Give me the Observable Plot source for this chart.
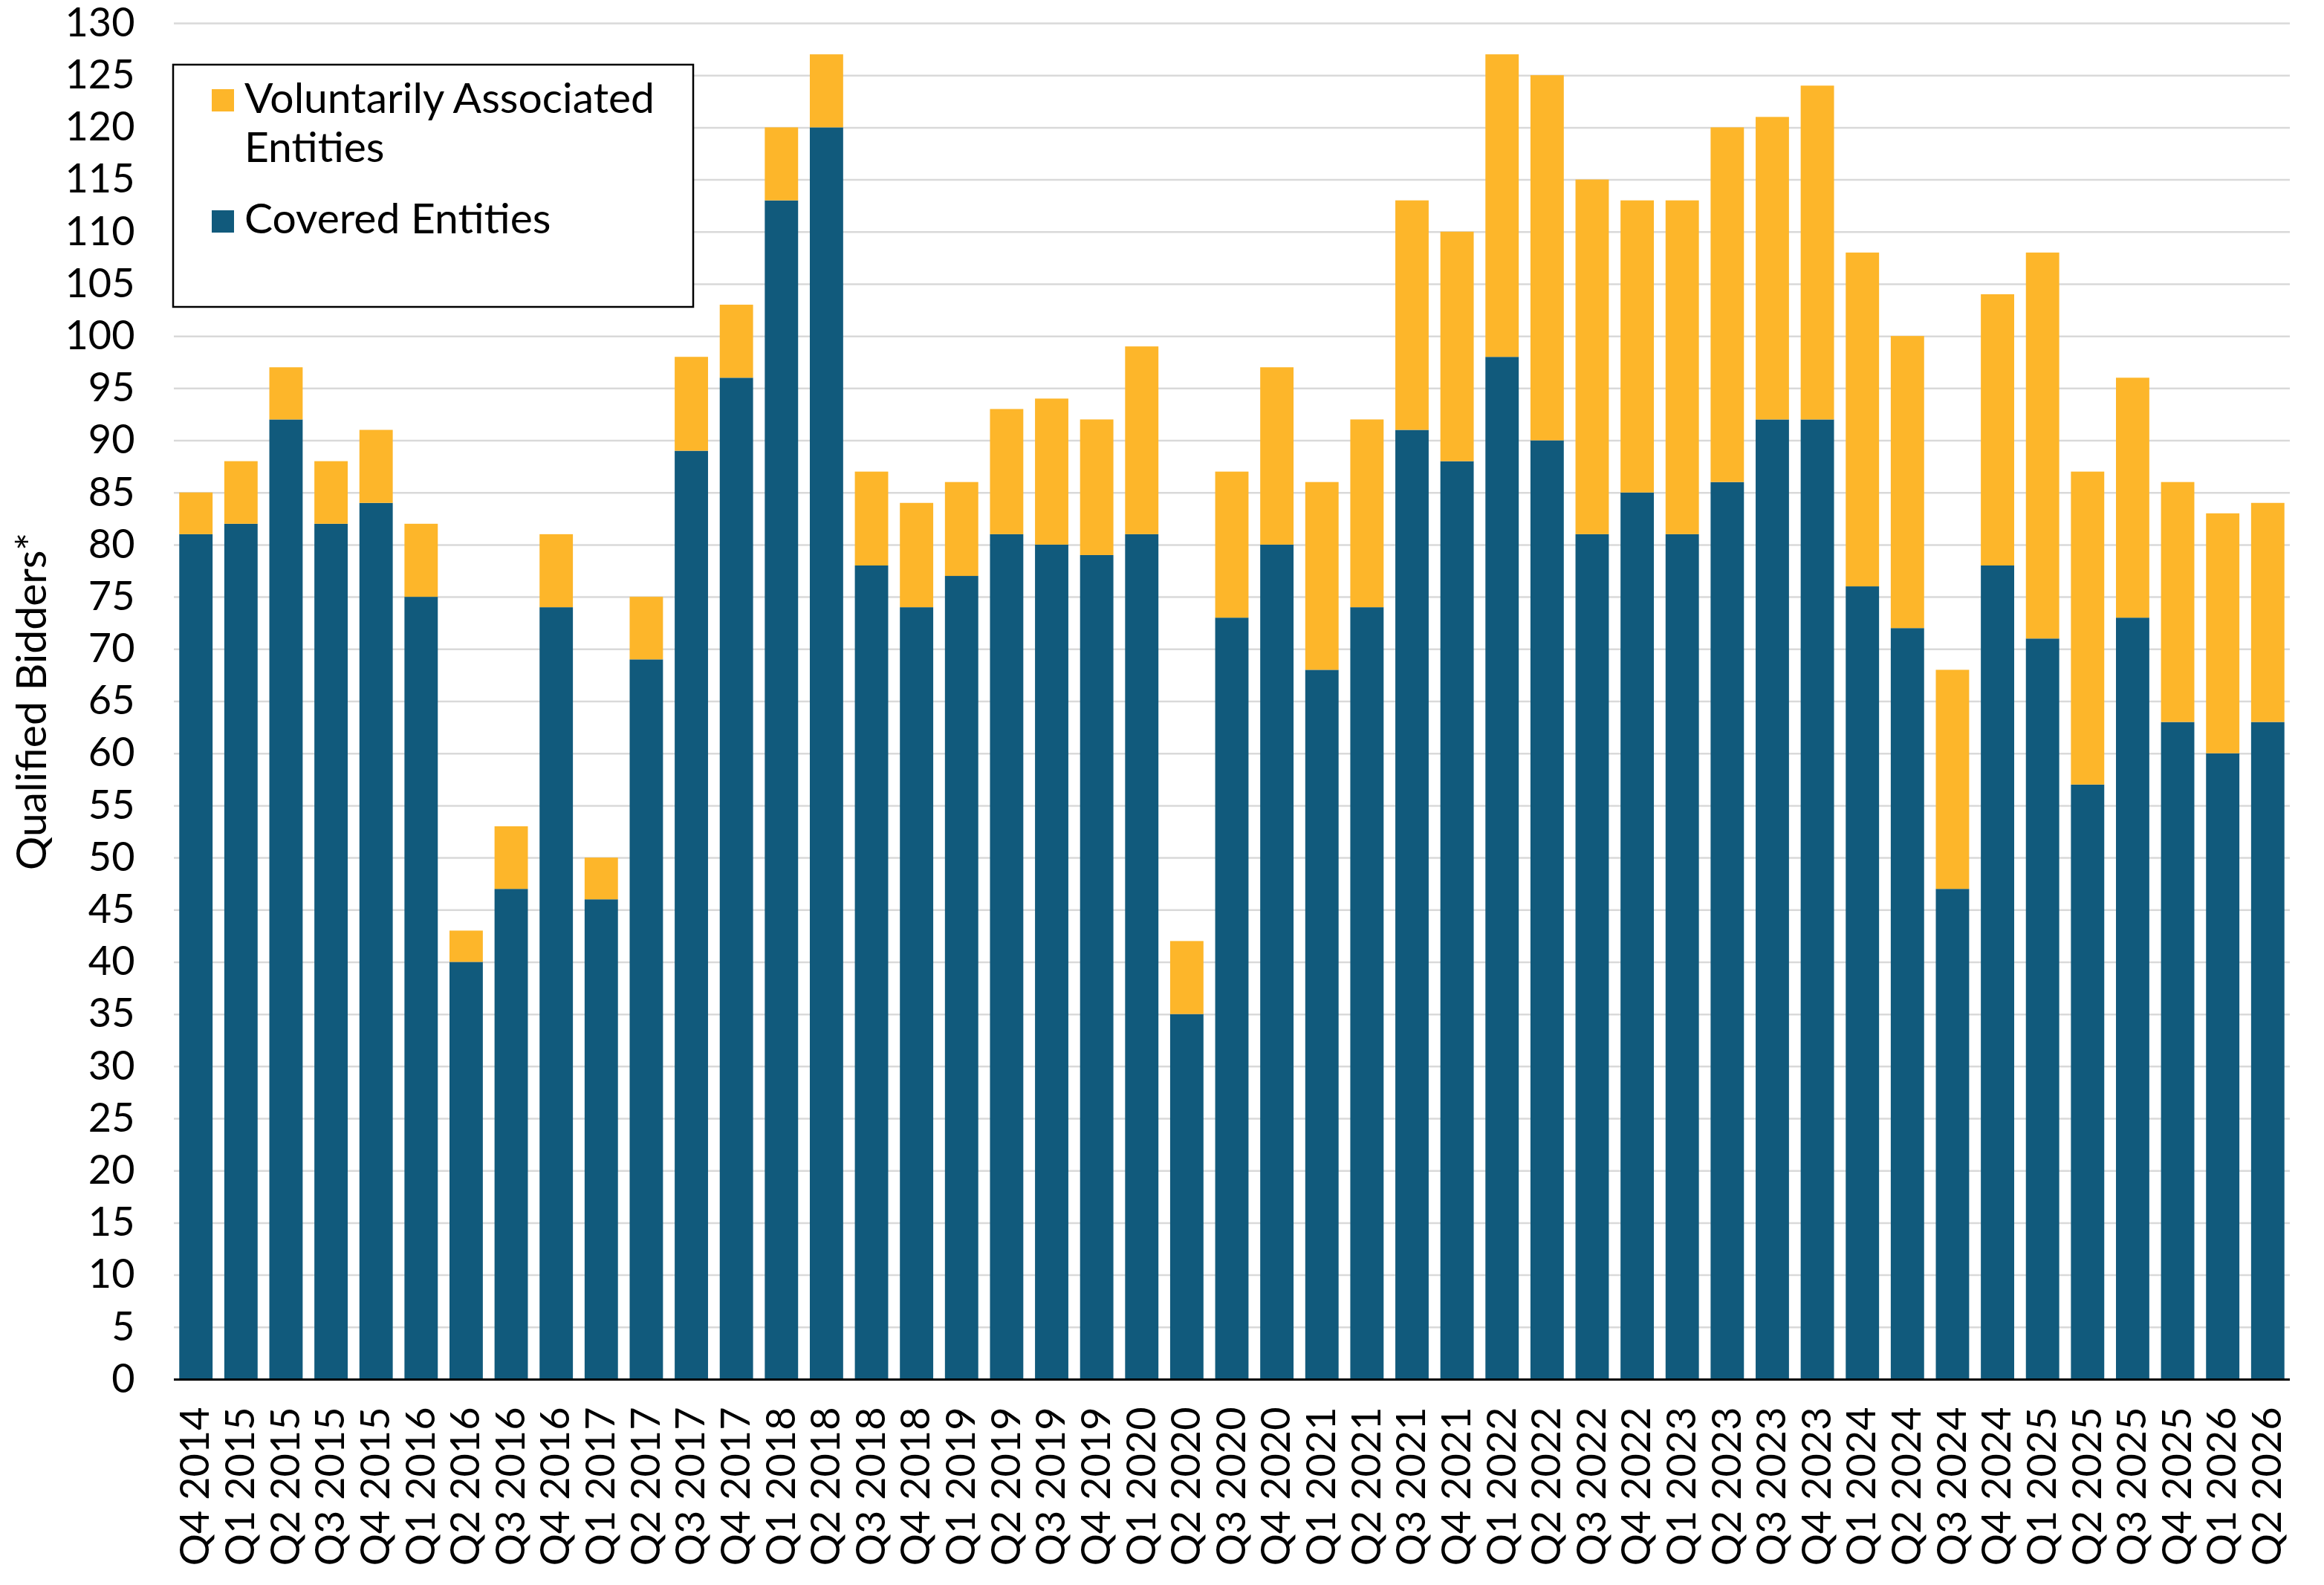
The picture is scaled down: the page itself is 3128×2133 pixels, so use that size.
<!DOCTYPE html>
<html><head><meta charset="utf-8">
<script src="https://cdn.jsdelivr.net/npm/d3@7"></script>
<script src="https://cdn.jsdelivr.net/npm/@observablehq/plot@0.6"></script>
<style>
html,body{margin:0;padding:0;background:#fff;overflow:hidden}
#chart{position:relative;width:3128px;height:2133px}
#chart svg{display:block}
</style></head><body><div id="chart"></div>
<script>
const quarters = ["Q4 2014","Q1 2015","Q2 2015","Q3 2015","Q4 2015","Q1 2016","Q2 2016","Q3 2016","Q4 2016","Q1 2017","Q2 2017","Q3 2017","Q4 2017","Q1 2018","Q2 2018","Q3 2018","Q4 2018","Q1 2019","Q2 2019","Q3 2019","Q4 2019","Q1 2020","Q2 2020","Q3 2020","Q4 2020","Q1 2021","Q2 2021","Q3 2021","Q4 2021","Q1 2022","Q2 2022","Q3 2022","Q4 2022","Q1 2023","Q2 2023","Q3 2023","Q4 2023","Q1 2024","Q2 2024","Q3 2024","Q4 2024","Q1 2025","Q2 2025","Q3 2025","Q4 2025","Q1 2026","Q2 2026"];
const covered = [81,82,92,82,84,75,40,47,74,46,69,89,96,113,120,78,74,77,81,80,79,81,35,73,80,68,74,91,88,98,90,81,85,81,86,92,92,76,72,47,78,71,57,73,63,60,63];
const voluntary = [4,6,5,6,7,7,3,6,7,4,6,9,7,7,7,9,10,9,12,14,13,18,7,14,17,18,18,22,22,29,35,34,28,32,34,29,32,32,28,21,26,37,30,23,23,23,21];
const seriesNames = ["Covered Entities","Voluntarily Associated Entities"];
const legendLabels = [["Voluntarily Associated","Entities"],["Covered Entities"]];
const seriesColors = ["#115A7C","#FDB62A"];
const yTicks = d3.range(0, 131, 5);
const yTitle = "Qualified Bidders*";

const data = [];
quarters.forEach((q, i) => data.push({quarter: q, series: seriesNames[0], value: covered[i]}));
quarters.forEach((q, i) => data.push({quarter: q, series: seriesNames[1], value: voluntary[i]}));

const font = "Lato, 'Noto Sans', sans-serif";
const plot = Plot.plot({
  width: 3128, height: 2133,
  marginLeft: 234, marginRight: 46, marginTop: 31, marginBottom: 277,
  style: {fontFamily: font, fontSize: "54px", color: "#000", background: "#fff", overflow: "visible"},
  x: {domain: quarters, paddingInner: 0.26, paddingOuter: 0.12, round: false, label: null},
  y: {domain: [0, 130], label: null},
  color: {domain: seriesNames, range: seriesColors},
  marks: [
    Plot.gridY(yTicks, {stroke: "#d9d9d9", strokeOpacity: 1, strokeWidth: 2.5}),
    Plot.barY(data, {x: "quarter", y: "value", fill: "series"}),
    Plot.ruleY([0], {stroke: "#000", strokeWidth: 3}),
    Plot.axisY(yTicks, {tickSize: 0, tickPadding: 53, fontSize: 54, label: null}),
    Plot.axisX({tickSize: 0, tickRotate: -90, tickPadding: 37, fontSize: 54, label: null}),
    Plot.text([yTitle], {frameAnchor: "left", textAnchor: "middle", rotate: -90, dx: -191, fontSize: 57, fill: "#000"})
  ]
});
document.getElementById("chart").appendChild(plot);

// legend
const svg = d3.select(plot);
const lg = svg.append("g").attr("font-family", font).attr("font-size", 57).attr("fill", "#000").attr("text-anchor", "start");
lg.append("rect").attr("x", 233).attr("y", 87).attr("width", 700).attr("height", 326)
  .attr("fill", "#fff").attr("stroke", "#000").attr("stroke-width", 2.5);
const items = [
  {color: seriesColors[1], lines: legendLabels[0], sy: 120, by: 152},
  {color: seriesColors[0], lines: legendLabels[1], sy: 283, by: 314}
];
items.forEach(it => {
  lg.append("rect").attr("x", 285).attr("y", it.sy).attr("width", 30).attr("height", 30).attr("fill", it.color);
  const t = lg.append("text").attr("x", 329).attr("y", it.by).attr("text-anchor", "start");
  it.lines.forEach((l, j) => t.append("tspan").attr("x", 329).attr("dy", j ? 66 : 0).text(l));
});
</script></body></html>
